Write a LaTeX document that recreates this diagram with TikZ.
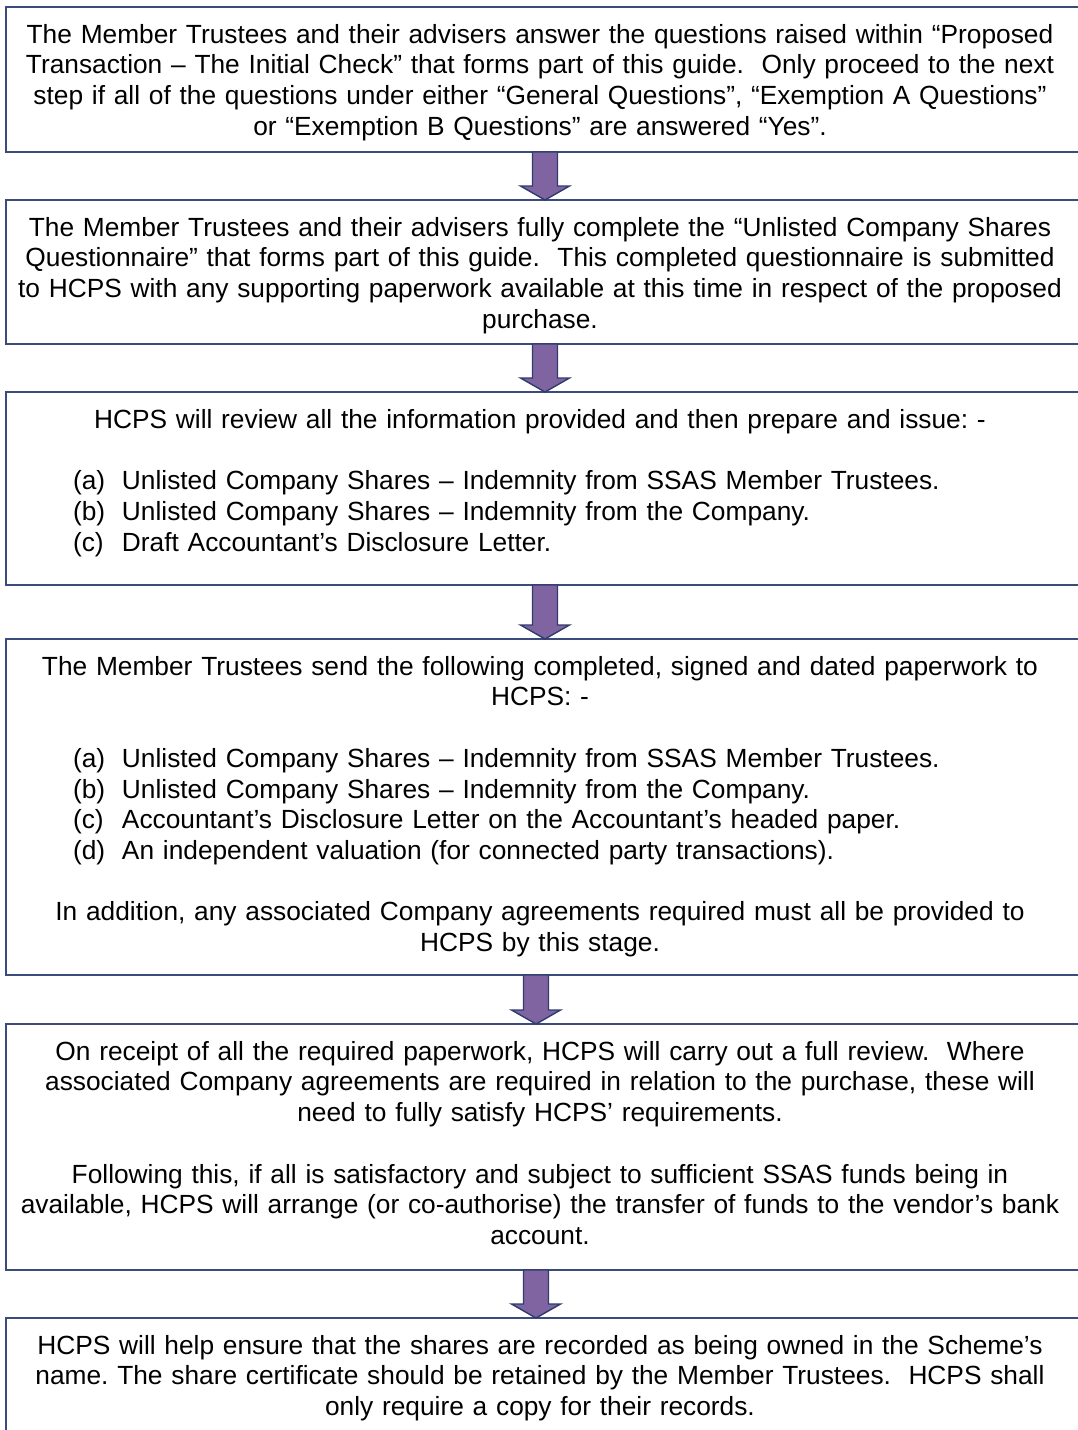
\documentclass[tikz,border=0pt]{standalone}
\usepackage{fontspec}
\setmainfont{Liberation Sans}
\usetikzlibrary{calc}
\frenchspacing

\definecolor{boxline}{HTML}{3B4B7B}
\definecolor{arrowfill}{HTML}{8064A2}
\definecolor{arrowline}{HTML}{2F3D6C}

% block arrow from the bottom of one box to the top of the next, at a given x
\newcommand{\flowarrow}[3]{%
  \draw[flowarr] let \p1=(#1.south), \p2=(#2.north) in
    (#3pt-12.5pt,\y1) -- (#3pt+12.5pt,\y1) -- (#3pt+12.5pt,\y2+14pt)
    -- (#3pt+24.5pt,\y2+14pt) -- (#3pt,\y2) -- (#3pt-24.5pt,\y2+14pt)
    -- (#3pt-12.5pt,\y2+14pt) -- cycle;}

% one lettered item of a list, with a hanging label
\newcommand{\listline}[2]{\makebox[1060pt][l]{\hspace*{63pt}\makebox[49pt][l]{#1}#2}}
\newcommand{\firstline}{\rule{0pt}{20pt}}

\tikzset{
  flowbox/.style={draw=boxline, line width=1.8pt, rectangle, minimum width=1080pt,
    anchor=north west, inner sep=0pt, outer sep=0pt},
  flowtext/.style={font=\fontsize{26.3}{30.7}\selectfont, align=center, text width=1060pt,
    inner sep=0pt, anchor=north},
  flowarr/.style={fill=arrowfill, draw=arrowline, line width=1.4pt, line join=miter}
}

\begin{document}
\begin{tikzpicture}[x=1pt, y=-1pt]
\useasboundingbox (0,0) rectangle (1078,1430);
\clip (0,0) rectangle (1078,1430);
\fill[white] (0,0) rectangle (1078,1430);

% boxes
\node[flowbox, minimum height=145pt] (b1) at (6,7) {};
\node[flowbox, minimum height=144pt] (b2) at (6,200) {};
\node[flowbox, minimum height=193pt] (b3) at (6,392) {};
\node[flowbox, minimum height=336pt] (b4) at (6,639) {};
\node[flowbox, minimum height=246pt] (b5) at (6,1024) {};
\node[flowbox, minimum height=150pt] (b6) at (6,1318) {};

% texts
\node[flowtext] (t1) at (540,23) {\firstline The Member Trustees and their advisers answer the questions raised within “Proposed\\
Transaction – The Initial Check” that forms part of this guide.\ \ Only proceed to the next\\
step if all of the questions under either “General Questions”, “Exemption A Questions”\\
or “Exemption B Questions” are answered “Yes”.};

\node[flowtext] (t2) at (540,216) {\firstline The Member Trustees and their advisers fully complete the “Unlisted Company Shares\\
Questionnaire” that forms part of this guide.\ \ This completed questionnaire is submitted\\
to HCPS with any supporting paperwork available at this time in respect of the proposed\\
purchase.};

\node[flowtext] (t3) at (540,408) {\firstline HCPS will review all the information provided and then prepare and issue: -\\
\mbox{}\\
\listline{(a)}{Unlisted Company Shares – Indemnity from SSAS Member Trustees.}\\
\listline{(b)}{Unlisted Company Shares – Indemnity from the Company.}\\
\listline{(c)}{Draft Accountant’s Disclosure Letter.}};

\node[flowtext] (t4) at (540,655) {\firstline The Member Trustees send the following completed, signed and dated paperwork to\\
HCPS: -\\
\mbox{}\\
\listline{(a)}{Unlisted Company Shares – Indemnity from SSAS Member Trustees.}\\
\listline{(b)}{Unlisted Company Shares – Indemnity from the Company.}\\
\listline{(c)}{Accountant’s Disclosure Letter on the Accountant’s headed paper.}\\
\listline{(d)}{An independent valuation (for connected party transactions).}\\
\mbox{}\\
In addition, any associated Company agreements required must all be provided to\\
HCPS by this stage.};

\node[flowtext] (t5) at (540,1040) {\firstline On receipt of all the required paperwork, HCPS will carry out a full review.\ \ Where\\
associated Company agreements are required in relation to the purchase, these will\\
need to fully satisfy HCPS’ requirements.\\
\mbox{}\\
Following this, if all is satisfactory and subject to sufficient SSAS funds being in\\
available, HCPS will arrange (or co-authorise) the transfer of funds to the vendor’s bank\\
account.};

\node[flowtext] (t6) at (540,1334) {\firstline HCPS will help ensure that the shares are recorded as being owned in the Scheme’s\\
name. The share certificate should be retained by the Member Trustees.\ \ HCPS shall\\
only require a copy for their records.};

% arrows between steps
\flowarrow{b1}{b2}{545}
\flowarrow{b2}{b3}{545}
\flowarrow{b3}{b4}{545}
\flowarrow{b4}{b5}{536}
\flowarrow{b5}{b6}{536}
\end{tikzpicture}
\end{document}
